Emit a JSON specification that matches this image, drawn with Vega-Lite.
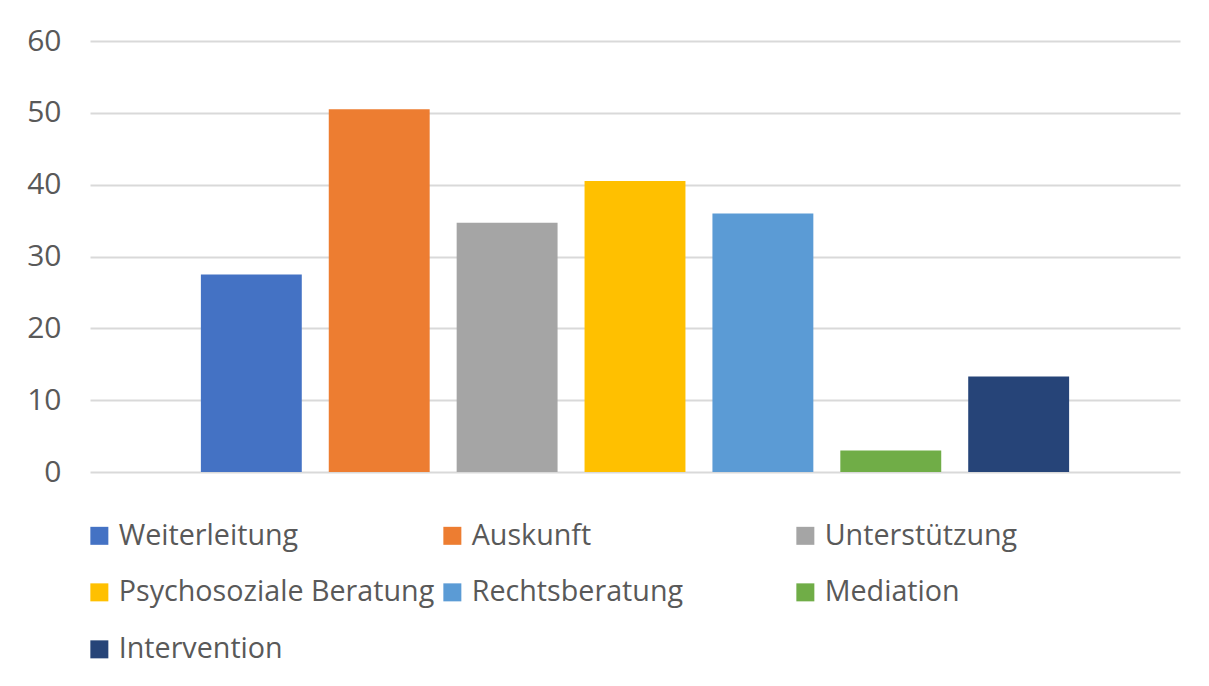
{
  "$schema": "https://vega.github.io/schema/vega-lite/v6.json",
  "width": 1090,
  "height": 431,
  "autosize": {"type": "none"},
  "padding": {"left": 90, "top": 41, "right": 29, "bottom": 214},
  "background": "white",
  "config": {
    "view": {"stroke": null},
    "font": "Open Sans"
  },
  "data": {
    "values": [
      {"Kategorie": "Weiterleitung", "Wert": 27.5},
      {"Kategorie": "Auskunft", "Wert": 50.5},
      {"Kategorie": "Unterstützung", "Wert": 34.7},
      {"Kategorie": "Psychosoziale Beratung", "Wert": 40.5},
      {"Kategorie": "Rechtsberatung", "Wert": 36.0},
      {"Kategorie": "Mediation", "Wert": 3.0},
      {"Kategorie": "Intervention", "Wert": 13.3}
    ]
  },
  "mark": {"type": "bar"},
  "encoding": {
    "x": {
      "field": "Kategorie",
      "type": "nominal",
      "sort": null,
      "scale": {"paddingInner": 0.211, "paddingOuter": 0.867},
      "axis": null
    },
    "y": {
      "field": "Wert",
      "type": "quantitative",
      "scale": {"domain": [0, 60], "nice": false},
      "axis": {
        "title": null,
        "values": [0, 10, 20, 30, 40, 50, 60],
        "domain": false,
        "ticks": false,
        "tickSize": 0,
        "labelPadding": 29,
        "labelFontSize": 30,
        "labelColor": "#595959",
        "labelFont": "Open Sans",
        "grid": true,
        "gridColor": "#d9d9d9",
        "gridWidth": 2
      }
    },
    "color": {
      "field": "Kategorie",
      "type": "nominal",
      "sort": null,
      "scale": {
        "domain": ["Weiterleitung", "Auskunft", "Unterstützung", "Psychosoziale Beratung", "Rechtsberatung", "Mediation", "Intervention"],
        "range": ["#4472C4", "#ED7D31", "#A5A5A5", "#FFC000", "#5B9BD5", "#70AD47", "#264478"]
      },
      "legend": {
        "title": null,
        "orient": "none",
        "legendX": -5,
        "legendY": 480,
        "direction": "horizontal",
        "columns": 3,
        "gridAlign": "all",
        "columnPadding": 3,
        "rowPadding": 27,
        "padding": 0,
        "symbolType": "square",
        "symbolSize": 324,
        "symbolStrokeWidth": 0,
        "labelOffset": 5,
        "labelFontSize": 28.7,
        "labelFont": "Open Sans",
        "labelColor": "#595959",
        "labelLimit": 400
      }
    }
  }
}
